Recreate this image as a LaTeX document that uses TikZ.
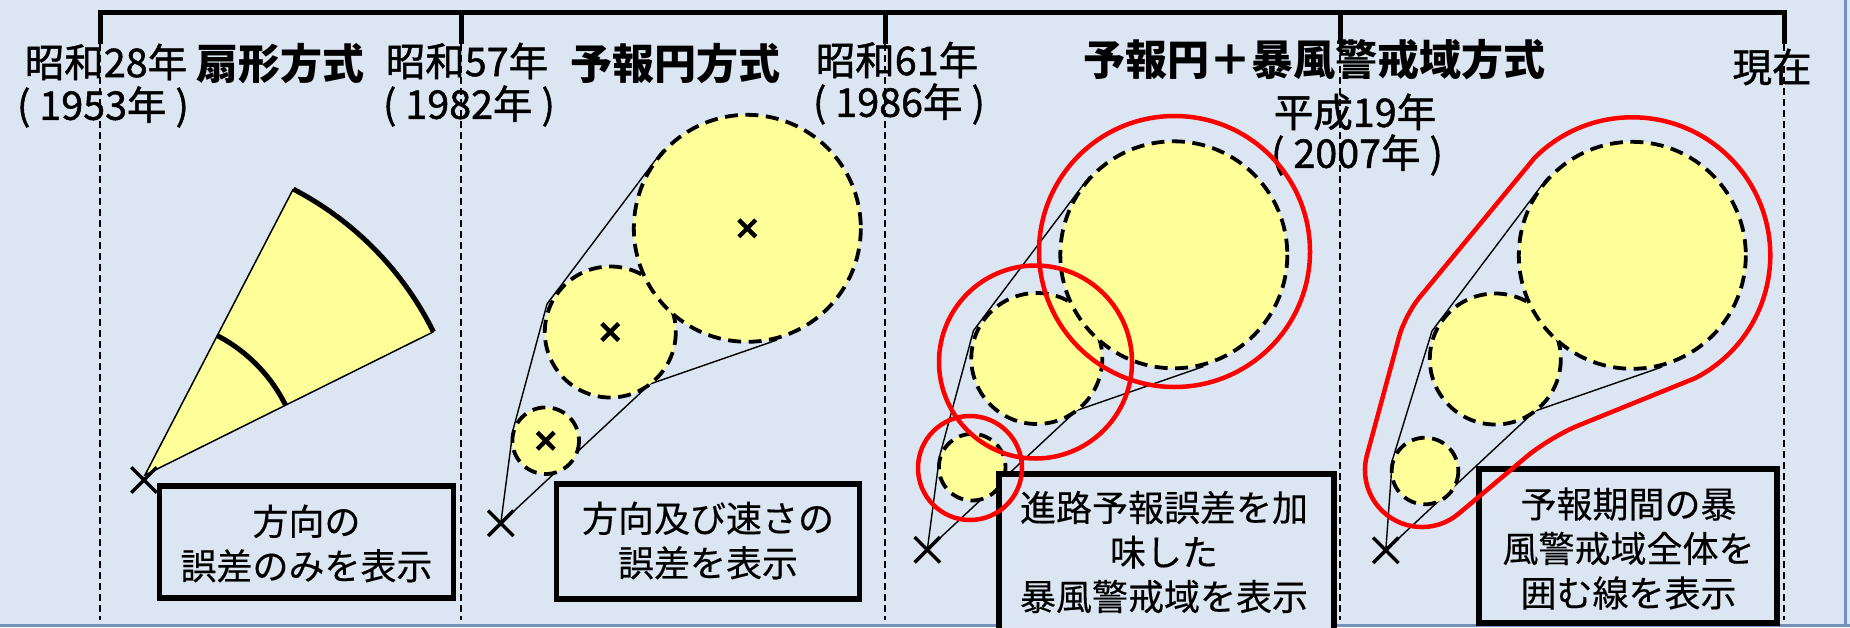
\documentclass[tikz,border=0pt]{standalone}
\usepackage{fontspec}
\usetikzlibrary{shapes.misc}
\newfontfamily\jp{Noto Sans CJK JP}
\newfontfamily\jpm{Noto Sans CJK JP}[FakeBold=1.2]
\newfontfamily\jpb{Noto Sans CJK JP}[FakeBold=0.3]
\definecolor{bgc}{HTML}{DCE6F2}
\definecolor{yel}{HTML}{FFFF99}
\definecolor{bordc}{HTML}{7391BC}
\newcommand{\lp}{(\kern9pt}
\newcommand{\rp}{\kern9pt)}
\begin{document}
\begin{tikzpicture}[x=1pt,y=-1pt,
  brk/.style={line width=5pt, line join=miter},
  vd/.style={line width=1.3pt, dash pattern=on 7pt off 4pt},
  lab/.style={inner sep=0pt, font=\jpm\fontsize{39.5pt}{42pt}\selectfont},
  ttl/.style={inner sep=0pt, font=\jp\bfseries\fontsize{42pt}{44pt}\selectfont},
  bt/.style={inner sep=0pt, align=center, font=\jpb\fontsize{36pt}{44.5pt}\selectfont},
  boxst/.style={draw, line width=5.5pt, fill=bgc, inner sep=0pt},
  dc/.style={fill=yel, draw=black, line width=3.8pt, dash pattern=on 13pt off 7.5pt},
  env/.style={line width=1.4pt, line join=round},
  rc/.style={draw=red, line width=4.5pt},
  xm/.style={cross out, draw, minimum size=22pt, inner sep=0pt, line width=3.4pt},
  ctrx/.style={cross out, draw, minimum size=12.5pt, inner sep=0pt, line width=4.4pt},
  fanarc/.style={line width=5pt},
  fanedge/.style={line width=1.5pt}]
\useasboundingbox (0,0) rectangle (1850,627);
\fill[bgc] (0,0) rectangle (1850,627);
\draw[bordc, line width=2.5pt] (0,625.5) -- (1850,625.5);
\draw[bordc, line width=2.5pt] (1845.5,0) -- (1845.5,627);

% time bracket
\coordinate (k1) at (100,12);
\coordinate (k2) at (461,12);
\coordinate (k3) at (885,12);
\coordinate (k4) at (1340,12);
\coordinate (k5) at (1784,12);
\coordinate (d1) at (100,44);
\coordinate (d2) at (461,44);
\coordinate (d3) at (885,44);
\coordinate (d4) at (1340,44);
\coordinate (d5) at (1784,44);
\coordinate (e1) at (100,620);
\coordinate (e2) at (461,620);
\coordinate (e3) at (885,620);
\coordinate (e4) at (1340,620);
\coordinate (e5) at (1784,620);
\draw[brk] (d1) -- (k1) -- (k5) -- (d5);
\draw[brk] (k2) -- (d2);
\draw[brk] (k3) -- (d3);
\draw[brk] (k4) -- (d4);
\foreach \i in {1,...,5} \draw[vd] (d\i) -- (e\i);

% labels
\node[lab] (l1a) at (106,62) {昭和28年};
\node[lab] (l1b) at (103,107) {\lp1953年\rp};
\node[ttl] (h1) at (280,64) {扇形方式};
\node[lab] (l2a) at (467,61) {昭和57年};
\node[lab] (l2b) at (469,106) {\lp1982年\rp};
\node[ttl] (h2) at (675,64) {予報円方式};
\node[lab] (l3a) at (897,60) {昭和61年};
\node[lab] (l3b) at (899,104) {\lp1986年\rp};
\node[ttl] (h3) at (1314,60) {予報円＋暴風警戒域方式};
\node[lab] (l4a) at (1355,112) {平成19年};
\node[lab] (l4b) at (1357,155) {\lp2007年\rp};
\node[lab] (l5) at (1772,67) {現在};

% panel 1: fan
\coordinate (A1) at (145,475);
\coordinate (U1) at (293.2,189.1);
\coordinate (W1) at (433.4,331.8);
\coordinate (Ui) at (217.2,335.6);
\fill[yel] (A1) -- (U1) arc[start angle=-62.6, end angle=-26.4, radius=322] -- cycle;
\draw[fanedge] (U1) -- (A1) -- (W1);
\draw[fanarc] (U1) arc[start angle=-62.6, end angle=-26.4, radius=322];
\draw[fanarc] (Ui) arc[start angle=-62.6, end angle=-26.4, radius=157];
\node[xm] (x1) at (144,480) {};

% panel 2
\coordinate (X2) at (500.8,523.3);
\coordinate (S2) at (545.7,440.7);
\coordinate (M2) at (610.3,332);
\coordinate (L2) at (747.3,228.3);
\coordinate (a2) at (513,430);
\coordinate (b2) at (547,304);
\coordinate (c2) at (663,150);
\coordinate (f2) at (650,384);
\coordinate (g2) at (777,340);
\draw[env] (X2) -- (a2) -- (b2) -- (c2);
\draw[env] (X2) -- (f2) -- (g2);
\draw[dc] (S2) circle[radius=33.3];
\draw[dc] (M2) circle[radius=65.5];
\draw[dc] (L2) circle[radius=113.5];
\node[ctrx] (c2s) at (S2) {};
\node[ctrx] (c2m) at (M2) {};
\node[ctrx] (c2l) at (L2) {};
\node[xm] (x2) at (X2) {};

% panel 3
\coordinate (X3) at (927.3,549.8);
\coordinate (S3) at (972.2,467.2);
\coordinate (M3) at (1036.8,358.5);
\coordinate (L3) at (1173.8,254.8);
\coordinate (a3) at (939.5,456.5);
\coordinate (b3) at (973.5,330.5);
\coordinate (c3) at (1089.5,176.5);
\coordinate (f3) at (1076.5,410.5);
\coordinate (g3) at (1203.5,366.5);
\draw[env] (X3) -- (a3) -- (b3) -- (c3);
\draw[env] (X3) -- (f3) -- (g3);
\draw[dc] (S3) circle[radius=33.3];
\draw[dc] (M3) circle[radius=65.5];
\draw[dc] (L3) circle[radius=113.5];
\node[xm] (x3) at (X3) {};

% panel 4
\coordinate (X4) at (1385.8,550.3);
\coordinate (S4) at (1425,471);
\coordinate (M4) at (1495.3,359);
\coordinate (L4) at (1632.3,255.3);
\coordinate (a4) at (1392.3,460.3);
\coordinate (b4) at (1432,331);
\coordinate (c4) at (1548,177);
\coordinate (f4) at (1535,411);
\coordinate (g4) at (1662,367);
\draw[env] (X4) -- (a4) -- (b4) -- (c4);
\draw[env] (X4) -- (f4) -- (g4);
\draw[dc] (S4) circle[radius=33.3];
\draw[dc] (M4) circle[radius=65.5];
\draw[dc] (L4) circle[radius=113.5];
\node[xm] (x4) at (X4) {};

% boxes
\node[boxst, minimum width=294pt, minimum height=112pt] (b1) at (306.5,542) {};
\node[boxst, minimum width=303pt, minimum height=115pt] (bx2) at (708,541.5) {};
\node[boxst, minimum width=335pt, minimum height=166pt] (bx3) at (1166.5,557) {};
\node[boxst, minimum width=298pt, minimum height=154pt] (bx4) at (1628,546) {};
\node[bt] (t1) at (306.5,543.5) {方向の\\誤差のみを表示};
\node[bt] (t2) at (708,540.5) {方向及び速さの\\誤差を表示};
\node[bt] (t3) at (1164,552) {進路予報誤差を加\\味した\\暴風警戒域を表示};
\node[bt] (t4) at (1628.5,548.5) {予報期間の暴\\風警戒域全体を\\囲む線を表示};

% red warning areas
\draw[rc] (970,468) circle[radius=52];
\draw[rc] (1035.5,362) circle[radius=96.5];
\draw[rc] (1174.5,251.5) circle[radius=135.5];
\coordinate (r4a) at (1534.7,157.7);
\coordinate (r4b) at (1550,437);
\coordinate (r4c) at (1458.6,513.7);
\coordinate (r4d) at (1405,315);
\draw[rc, line join=round] (r4a) arc[start angle=-135, end angle=63, radius=138]
  [rounded corners=30pt] -- (r4b) [sharp corners] -- (r4c)
  arc[start angle=50, end angle=195, radius=57]
  [rounded corners=22pt] -- (r4d) [sharp corners] -- cycle;
\end{tikzpicture}
\end{document}
